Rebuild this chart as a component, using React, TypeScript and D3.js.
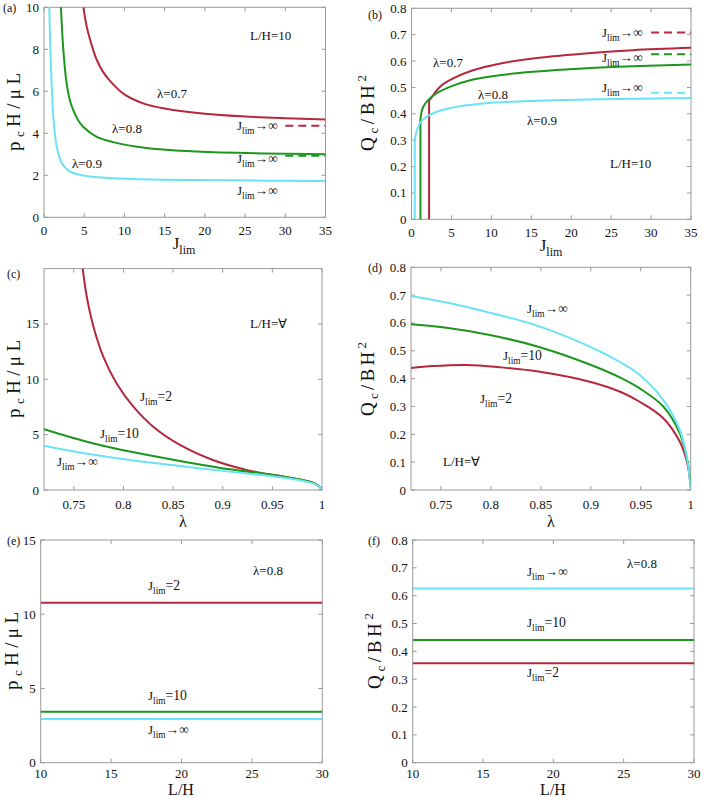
import React from 'react';
import * as d3 from 'd3';

type P = [number, number];

const RED = '#B5283D';
const GREEN = '#1C961C';
const CYAN = '#6AE3F6';

// ---------- Panel (a): pcH/μL vs Jlim, L/H=10 ----------
const aLam07: P[] = [[4.9, 10], [5.3, 9.1], [5.7, 8.5], [6.5, 7.55], [7.3, 6.95], [8.2, 6.5], [10, 5.85], [12.5, 5.4], [15, 5.18], [20, 4.93], [25, 4.8], [30, 4.72], [35, 4.66]];
const aLam08: P[] = [[2.1, 10], [2.25, 8.9], [2.4, 8.0], [2.8, 6.4], [3.2, 5.6], [3.64, 5.1], [4.2, 4.65], [4.9, 4.3], [6.5, 3.84], [8.6, 3.58], [12.75, 3.3], [19, 3.13], [27.2, 3.04], [35, 3.0]];
const aLam09: P[] = [[0.66, 10], [0.75, 8.5], [0.87, 7.17], [1.0, 5.9], [1.16, 4.79], [1.35, 4.0], [1.58, 3.36], [1.9, 2.9], [2.2, 2.6], [2.7, 2.35], [3.23, 2.17], [4.2, 2.05], [5.3, 1.97], [8.6, 1.86], [14.8, 1.79], [23, 1.76], [35, 1.73]];
const aAsym: { v: number; c: string }[] = [{ v: 4.36, c: RED }, { v: 2.93, c: GREEN }];
const aXTicks = [0, 5, 10, 15, 20, 25, 30, 35];
const aYTicks = [0, 2, 4, 6, 8, 10];

// ---------- Panel (b): Qc/BH² vs Jlim, L/H=10 ----------
const bLam07: P[] = [[2.2, 0], [2.2, 0.45], [2.7, 0.47], [3.54, 0.502], [5.2, 0.534], [7.7, 0.565], [11, 0.59], [15.2, 0.61], [21.4, 0.628], [27.7, 0.641], [35, 0.65]];
const bLam08: P[] = [[1.12, 0], [1.12, 0.382], [1.46, 0.426], [2.08, 0.452], [3.1, 0.477], [4.8, 0.502], [7.7, 0.53], [11, 0.546], [15.2, 0.559], [21.4, 0.572], [27.7, 0.58], [35, 0.587]];
const bLam09: P[] = [[0.41, 0], [0.41, 0.3], [0.62, 0.332], [1.04, 0.363], [1.87, 0.389], [3.1, 0.407], [5.2, 0.424], [8.95, 0.439], [15.2, 0.449], [23.5, 0.455], [35, 0.46]];
const bAsym: { v: number; c: string }[] = [{ v: 0.708, c: RED }, { v: 0.626, c: GREEN }, { v: 0.48, c: CYAN }];
const bXTicks = [0, 5, 10, 15, 20, 25, 30, 35];
const bYTicks = [0, 0.1, 0.2, 0.3, 0.4, 0.5, 0.6, 0.7, 0.8];

// ---------- Panel (c): pcH/μL vs λ ----------
const cJ2: P[] = [[0.759, 20], [0.763, 17.5], [0.7697, 14.8], [0.7797, 12.05], [0.793, 9.65], [0.81, 7.53], [0.83, 5.72], [0.857, 4.07], [0.89, 2.71], [0.924, 1.81], [0.94, 1.52], [0.958, 1.27], [0.975, 1.0], [0.9846, 0.81], [0.993, 0.58], [1, 0.1]];
const cJ10: P[] = [[0.72, 5.5], [0.7394, 4.97], [0.773, 4.13], [0.8066, 3.47], [0.857, 2.62], [0.907, 1.87], [0.94, 1.5], [0.958, 1.27], [0.975, 1.0], [0.9846, 0.82], [0.993, 0.58], [1, 0.1]];
const cJinf: P[] = [[0.72, 4.0], [0.756, 3.38], [0.8066, 2.71], [0.857, 2.17], [0.907, 1.66], [0.94, 1.35], [0.958, 1.15], [0.975, 0.92], [0.9846, 0.75], [0.993, 0.55], [1, 0.1]];
const cXTicks = [0.75, 0.8, 0.85, 0.9, 0.95, 1];
const cYTicks = [0, 5, 10, 15];

// ---------- Panel (d): Qc/BH² vs λ ----------
const dJinf: P[] = [[0.72, 0.697], [0.759, 0.671], [0.799, 0.637], [0.849, 0.587], [0.899, 0.515], [0.93, 0.458], [0.949, 0.413], [0.9726, 0.323], [0.989, 0.216], [0.9966, 0.108], [1, 0.0]];
const dJ10: P[] = [[0.72, 0.595], [0.759, 0.581], [0.799, 0.557], [0.849, 0.513], [0.899, 0.451], [0.93, 0.403], [0.949, 0.365], [0.9726, 0.3], [0.989, 0.204], [0.9966, 0.108], [1, 0.02]];
const dJ2: P[] = [[0.72, 0.438], [0.742, 0.445], [0.7757, 0.449], [0.809, 0.441], [0.849, 0.425], [0.899, 0.389], [0.93, 0.352], [0.949, 0.317], [0.9726, 0.258], [0.989, 0.174], [0.9966, 0.096], [1, 0.01]];
const dXTicks = [0.75, 0.8, 0.85, 0.9, 0.95, 1];
const dYTicks = [0, 0.1, 0.2, 0.3, 0.4, 0.5, 0.6, 0.7, 0.8];

// ---------- Panel (e): pcH/μL vs L/H, λ=0.8 ----------
const eLH = [10, 30];
const eJ2 = [10.78, 10.78];
const eJ10 = [3.43, 3.43];
const eJinf = [2.94, 2.94];
const eXTicks = [10, 15, 20, 25, 30];
const eYTicks = [0, 5, 10, 15];

// ---------- Panel (f): Qc/BH² vs L/H, λ=0.8 ----------
const fLH = [10, 30];
const fJinf = [0.626, 0.626];
const fJ10 = [0.441, 0.441];
const fJ2 = [0.357, 0.357];
const fXTicks = [10, 15, 20, 25, 30];
const fYTicks = [0, 0.1, 0.2, 0.3, 0.4, 0.5, 0.6, 0.7, 0.8];

const FONT = 'Liberation Serif, Times New Roman, serif';
const AXIS = '#9a9a9a';
const fmt = (d: number) => String(+d.toFixed(2));

type Series = { pts: P[]; color: string };
type Asym = { v: number; c: string };
type Ann = { x: number; y: number; kind: 'lam' | 'J' | 'txt'; text: string };

interface PanelProps {
  id: string;
  xDom: number[];
  xRange: [number, number];
  yDom: [number, number];
  yRange: [number, number];
  xTicks: number[];
  yTicks: number[];
  series: Series[];
  asym?: Asym[];
  asymFrom?: number;
  anns: Ann[];
  letter: { x: number; y: number; t: string };
  xLabel: { x: number; y: number; kind: 'J' | 'lam' | 'LH' };
  yLabel: { x: number; y: number; kind: 'p' | 'Q'; len: number };
  xTickOff: number;
}

function JText({ x, y, suffix, size = 13 }: { x: number; y: number; suffix: string; size?: number }) {
  return (
    <text x={x} y={y} fontFamily={FONT} fontSize={size} fill="#111">
      <tspan>J</tspan>
      <tspan dy={size * 0.32} fontSize={size * 0.72}>lim</tspan>
      <tspan dy={-size * 0.32} fontSize={size * 1.05}>{suffix}</tspan>
    </text>
  );
}

function Panel(p: PanelProps) {
  const x = d3.scaleLinear().domain(p.xDom).range(p.xRange);
  const y = d3.scaleLinear().domain(p.yDom).range(p.yRange);
  const smooth = d3
    .line<P>()
    .x((d) => x(d[0]))
    .y((d) => y(d[1]))
    .curve(d3.curveCatmullRom.alpha(0.5));
  const straight = d3
    .line<P>()
    .x((d) => x(d[0]))
    .y((d) => y(d[1]));
  const pathFor = (pts: P[]) => {
    // leading vertical run drawn straight, the rest smooth
    let k = 0;
    while (k + 1 < pts.length && pts[k + 1][0] === pts[0][0]) k++;
    const head = k > 0 ? straight(pts.slice(0, k + 1)) || '' : '';
    const tail = smooth(pts.slice(k)) || '';
    return head + tail;
  };
  const [x0, x1] = p.xRange;
  const [yb, yt] = p.yRange;
  const TL = 4;
  const clipId = 'clip-' + p.id;
  const xmax = p.xDom[p.xDom.length - 1];
  return (
    <g>
      <defs>
        <clipPath id={clipId}>
          <rect x={x0} y={yt - 1} width={x1 - x0} height={yb - yt + 2} />
        </clipPath>
      </defs>
      <rect x={x0} y={yt} width={x1 - x0} height={yb - yt} fill="none" stroke={AXIS} strokeWidth={1} />
      {p.xTicks.map((t) => (
        <g key={'xt' + t}>
          <line x1={x(t)} x2={x(t)} y1={yb} y2={yb - TL} stroke={AXIS} />
          <line x1={x(t)} x2={x(t)} y1={yt} y2={yt + TL} stroke={AXIS} />
          <text x={x(t)} y={yb + p.xTickOff} textAnchor="middle" fontFamily={FONT} fontSize={13} fill="#111">
            {fmt(t)}
          </text>
        </g>
      ))}
      {p.yTicks.map((t) => (
        <g key={'yt' + t}>
          <line x1={x0} x2={x0 + TL} y1={y(t)} y2={y(t)} stroke={AXIS} />
          <line x1={x1} x2={x1 - TL} y1={y(t)} y2={y(t)} stroke={AXIS} />
          <text x={x0 - 5} y={y(t) + 4.5} textAnchor="end" fontFamily={FONT} fontSize={13} fill="#111">
            {fmt(t)}
          </text>
        </g>
      ))}
      <g clipPath={`url(#${clipId})`}>
        {p.series.map((s, i) => (
          <path key={'s' + i} d={pathFor(s.pts)} fill="none" stroke={s.color} strokeWidth={2} strokeLinejoin="round" />
        ))}
        {(p.asym || []).map((a, i) => (
          <line
            key={'a' + i}
            x1={x(p.asymFrom ?? 30)}
            x2={x(xmax)}
            y1={y(a.v)}
            y2={y(a.v)}
            stroke={a.c}
            strokeWidth={2}
            strokeDasharray="8,5"
          />
        ))}
      </g>
      {p.anns.map((a, i) =>
        a.kind === 'J' ? (
          <JText key={'n' + i} x={a.x} y={a.y} suffix={a.text} />
        ) : (
          <text key={'n' + i} x={a.x} y={a.y} fontFamily={FONT} fontSize={13} fill="#111">
            {a.kind === 'lam' ? 'λ=' + a.text : a.text}
          </text>
        )
      )}
      <text x={p.letter.x} y={p.letter.y} fontFamily={FONT} fontSize={12} fill="#111">
        {p.letter.t}
      </text>
      {p.xLabel.kind === 'J' ? (
        <text x={p.xLabel.x} y={p.xLabel.y} textAnchor="middle" fontFamily={FONT} fontSize={17} fill="#111">
          <tspan>J</tspan>
          <tspan dy={5} fontSize={12}>lim</tspan>
        </text>
      ) : (
        <text x={p.xLabel.x} y={p.xLabel.y} textAnchor="middle" fontFamily={FONT} fontSize={16} fill="#111">
          {p.xLabel.kind === 'lam' ? 'λ' : 'L/H'}
        </text>
      )}
      <g transform={`translate(${p.yLabel.x},${p.yLabel.y}) rotate(-90)`}>
        {p.yLabel.kind === 'p' ? (
          <text textAnchor="middle" fontFamily={FONT} fontSize={19} fill="#111" textLength={p.yLabel.len} lengthAdjust="spacing">
            <tspan>p</tspan>
            <tspan dy={4} fontSize={13}>c</tspan>
            <tspan dy={-4}>{'H/μL'}</tspan>
          </text>
        ) : (
          <text textAnchor="middle" fontFamily={FONT} fontSize={19} fill="#111" textLength={p.yLabel.len} lengthAdjust="spacing">
            <tspan>Q</tspan>
            <tspan dy={4} fontSize={13}>c</tspan>
            <tspan dy={-4}>/BH</tspan>
            <tspan dy={-8} fontSize={13}>2</tspan>
          </text>
        )}
      </g>
    </g>
  );
}

const toPts = (xs: number[], ys: number[]): P[] => xs.map((v, i) => [v, ys[i]]);

export default function App() {
  return (
    <svg width={702} height={797} style={{ position: 'absolute', left: 0, top: 0, background: '#fff' }}>
      <rect width={702} height={797} fill="#fff" />
      <Panel
        id="a"
        xDom={[0, 35]}
        xRange={[44, 325.5]}
        yDom={[0, 10]}
        yRange={[217.3, 7.3]}
        xTicks={aXTicks}
        yTicks={aYTicks}
        series={[
          { pts: aLam07, color: RED },
          { pts: aLam08, color: GREEN },
          { pts: aLam09, color: CYAN },
        ]}
        asym={aAsym}
        anns={[
          { x: 250, y: 39.5, kind: 'txt', text: 'L/H=10' },
          { x: 157, y: 98, kind: 'lam', text: '0.7' },
          { x: 112, y: 133, kind: 'lam', text: '0.8' },
          { x: 72, y: 168, kind: 'lam', text: '0.9' },
          { x: 237, y: 130, kind: 'J', text: '→∞' },
          { x: 237, y: 163, kind: 'J', text: '→∞' },
          { x: 237, y: 195, kind: 'J', text: '→∞' },
        ]}
        letter={{ x: 3, y: 12, t: '(a)' }}
        xLabel={{ x: 184, y: 249, kind: 'J' }}
        yLabel={{ x: 20, y: 112, kind: 'p', len: 78 }}
        xTickOff={18}
      />
      <Panel
        id="b"
        xDom={[0, 35]}
        xRange={[411.5, 691]}
        yDom={[0, 0.8]}
        yRange={[219.3, 8.3]}
        xTicks={bXTicks}
        yTicks={bYTicks}
        series={[
          { pts: bLam07, color: RED },
          { pts: bLam08, color: GREEN },
          { pts: bLam09, color: CYAN },
        ]}
        asym={bAsym}
        anns={[
          { x: 610, y: 168, kind: 'txt', text: 'L/H=10' },
          { x: 433, y: 67, kind: 'lam', text: '0.7' },
          { x: 478, y: 99, kind: 'lam', text: '0.8' },
          { x: 527, y: 125, kind: 'lam', text: '0.9' },
          { x: 602, y: 37, kind: 'J', text: '→∞' },
          { x: 602, y: 62, kind: 'J', text: '→∞' },
          { x: 602, y: 92, kind: 'J', text: '→∞' },
        ]}
        letter={{ x: 368, y: 19, t: '(b)' }}
        xLabel={{ x: 551, y: 251, kind: 'J' }}
        yLabel={{ x: 374, y: 113, kind: 'Q', len: 76 }}
        xTickOff={18}
      />
      <Panel
        id="c"
        xDom={[0.72, 1]}
        xRange={[44, 322]}
        yDom={[0, 20]}
        yRange={[490, 268.6]}
        xTicks={cXTicks}
        yTicks={cYTicks}
        series={[
          { pts: cJ2, color: RED },
          { pts: cJ10, color: GREEN },
          { pts: cJinf, color: CYAN },
        ]}
        anns={[
          { x: 250, y: 328, kind: 'txt', text: 'L/H=∀' },
          { x: 140, y: 401, kind: 'J', text: '=2' },
          { x: 100, y: 438, kind: 'J', text: '=10' },
          { x: 57, y: 466, kind: 'J', text: '→∞' },
        ]}
        letter={{ x: 7, y: 278, t: '(c)' }}
        xLabel={{ x: 183, y: 527, kind: 'lam' }}
        yLabel={{ x: 20, y: 379, kind: 'p', len: 78 }}
        xTickOff={19}
      />
      <Panel
        id="d"
        xDom={[0.72, 1]}
        xRange={[411, 690.7]}
        yDom={[0, 0.8]}
        yRange={[490, 267.3]}
        xTicks={dXTicks}
        yTicks={dYTicks}
        series={[
          { pts: dJ2, color: RED },
          { pts: dJ10, color: GREEN },
          { pts: dJinf, color: CYAN },
        ]}
        anns={[
          { x: 527, y: 313, kind: 'J', text: '→∞' },
          { x: 503, y: 360, kind: 'J', text: '=10' },
          { x: 480, y: 403, kind: 'J', text: '=2' },
          { x: 443, y: 466, kind: 'txt', text: 'L/H=∀' },
        ]}
        letter={{ x: 368, y: 272, t: '(d)' }}
        xLabel={{ x: 551, y: 527, kind: 'lam' }}
        yLabel={{ x: 374, y: 379, kind: 'Q', len: 74 }}
        xTickOff={19}
      />
      <Panel
        id="e"
        xDom={[10, 30]}
        xRange={[40.7, 322.3]}
        yDom={[0, 15]}
        yRange={[762.7, 540]}
        xTicks={eXTicks}
        yTicks={eYTicks}
        series={[
          { pts: toPts(eLH, eJ2), color: RED },
          { pts: toPts(eLH, eJ10), color: GREEN },
          { pts: toPts(eLH, eJinf), color: CYAN },
        ]}
        anns={[
          { x: 253, y: 575, kind: 'lam', text: '0.8' },
          { x: 148, y: 590, kind: 'J', text: '=2' },
          { x: 148, y: 700, kind: 'J', text: '=10' },
          { x: 148, y: 734, kind: 'J', text: '→∞' },
        ]}
        letter={{ x: 7, y: 545, t: '(e)' }}
        xLabel={{ x: 181, y: 795, kind: 'LH' }}
        yLabel={{ x: 18, y: 651, kind: 'p', len: 78 }}
        xTickOff={15}
      />
      <Panel
        id="f"
        xDom={[10, 30]}
        xRange={[412.7, 694]}
        yDom={[0, 0.8]}
        yRange={[762.7, 540]}
        xTicks={fXTicks}
        yTicks={fYTicks}
        series={[
          { pts: toPts(fLH, fJinf), color: CYAN },
          { pts: toPts(fLH, fJ10), color: GREEN },
          { pts: toPts(fLH, fJ2), color: RED },
        ]}
        anns={[
          { x: 627, y: 568, kind: 'lam', text: '0.8' },
          { x: 527, y: 576, kind: 'J', text: '→∞' },
          { x: 527, y: 627, kind: 'J', text: '=10' },
          { x: 527, y: 677, kind: 'J', text: '=2' },
        ]}
        letter={{ x: 368, y: 545, t: '(f)' }}
        xLabel={{ x: 553, y: 795, kind: 'LH' }}
        yLabel={{ x: 381, y: 651, kind: 'Q', len: 76 }}
        xTickOff={15}
      />
    </svg>
  );
}
